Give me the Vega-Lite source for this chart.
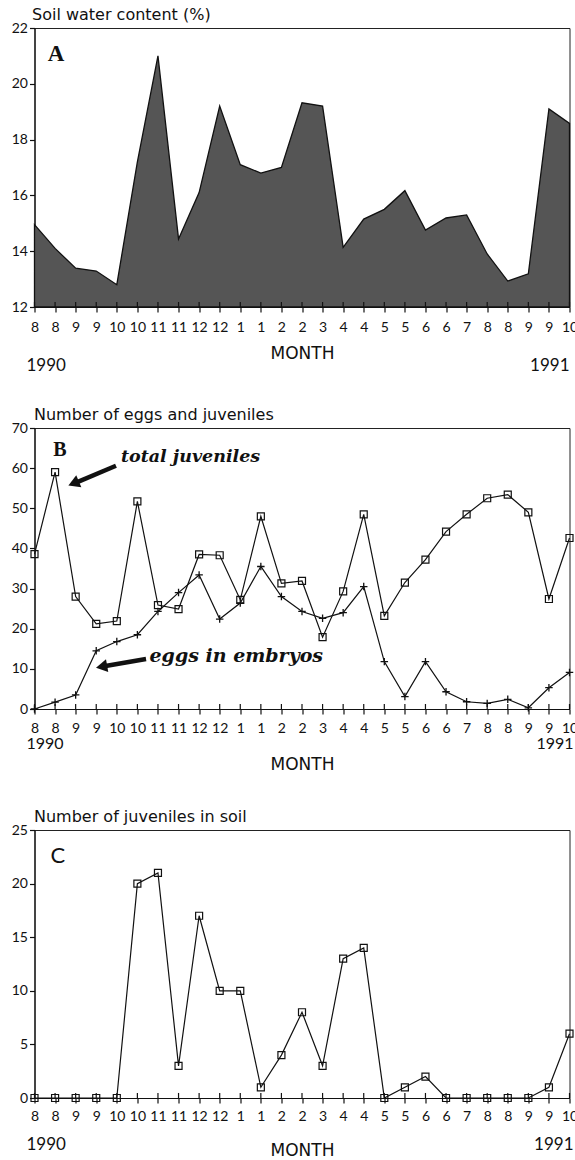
{
  "$schema": "https://vega.github.io/schema/vega-lite/v6.json",
  "background": "white",
  "padding": {"left": 10.5, "top": 5, "right": 2, "bottom": 5},
  "bounds": "flush",
  "spacing": 121,
  "config": {
    "view": {"stroke": "#222", "strokeWidth": 1},
    "font": "Lato",
    "axis": {"domainColor": "#111", "tickColor": "#111", "labelColor": "#111", "titleColor": "#111", "labelFont": "Lato", "titleFont": "DejaVu Sans", "grid": false, "labelFontSize": 14, "titleFontWeight": "normal", "domainWidth": 1.2, "tickWidth": 1.2, "labelOverlap": false, "labelBound": false}
  },
  "datasets": {
    "soil": [
      {"i": 0, "water": 14.95}, {"i": 1, "water": 14.1}, {"i": 2, "water": 13.39}, {"i": 3, "water": 13.29},
      {"i": 4, "water": 12.8}, {"i": 5, "water": 17.2}, {"i": 6, "water": 21.0}, {"i": 7, "water": 14.44},
      {"i": 8, "water": 16.1}, {"i": 9, "water": 19.2}, {"i": 10, "water": 17.1}, {"i": 11, "water": 16.8},
      {"i": 12, "water": 17.0}, {"i": 13, "water": 19.32}, {"i": 14, "water": 19.2}, {"i": 15, "water": 14.14},
      {"i": 16, "water": 15.15}, {"i": 17, "water": 15.5}, {"i": 18, "water": 16.17}, {"i": 19, "water": 14.76},
      {"i": 20, "water": 15.19}, {"i": 21, "water": 15.3}, {"i": 22, "water": 13.9}, {"i": 23, "water": 12.93},
      {"i": 24, "water": 13.19}, {"i": 25, "water": 19.1}, {"i": 26, "water": 18.58}
    ],
    "juv": [
      {"i": 0, "total": 38.6, "eggs": 0}, {"i": 1, "total": 59, "eggs": 1.7}, {"i": 2, "total": 28, "eggs": 3.5},
      {"i": 3, "total": 21.2, "eggs": 14.5}, {"i": 4, "total": 21.9, "eggs": 16.8}, {"i": 5, "total": 51.7, "eggs": 18.5},
      {"i": 6, "total": 25.9, "eggs": 24.3}, {"i": 7, "total": 24.9, "eggs": 29}, {"i": 8, "total": 38.5, "eggs": 33.4},
      {"i": 9, "total": 38.3, "eggs": 22.4}, {"i": 10, "total": 27.2, "eggs": 26.4}, {"i": 11, "total": 48, "eggs": 35.5},
      {"i": 12, "total": 31.3, "eggs": 28}, {"i": 13, "total": 31.9, "eggs": 24.3}, {"i": 14, "total": 17.9, "eggs": 22.6},
      {"i": 15, "total": 29.3, "eggs": 24}, {"i": 16, "total": 48.5, "eggs": 30.5}, {"i": 17, "total": 23.2, "eggs": 11.8},
      {"i": 18, "total": 31.5, "eggs": 3.1}, {"i": 19, "total": 37.2, "eggs": 11.8}, {"i": 20, "total": 44.2, "eggs": 4.3},
      {"i": 21, "total": 48.5, "eggs": 1.8}, {"i": 22, "total": 52.5, "eggs": 1.4}, {"i": 23, "total": 53.4, "eggs": 2.4},
      {"i": 24, "total": 49, "eggs": 0.3}, {"i": 25, "total": 27.4, "eggs": 5.3}, {"i": 26, "total": 42.6, "eggs": 9.1}
    ],
    "soiljuv": [
      {"i": 0, "n": 0}, {"i": 1, "n": 0}, {"i": 2, "n": 0}, {"i": 3, "n": 0}, {"i": 4, "n": 0},
      {"i": 5, "n": 20}, {"i": 6, "n": 21}, {"i": 7, "n": 3}, {"i": 8, "n": 17}, {"i": 9, "n": 10},
      {"i": 10, "n": 10}, {"i": 11, "n": 1}, {"i": 12, "n": 4}, {"i": 13, "n": 8}, {"i": 14, "n": 3},
      {"i": 15, "n": 13}, {"i": 16, "n": 14}, {"i": 17, "n": 0}, {"i": 18, "n": 1}, {"i": 19, "n": 2},
      {"i": 20, "n": 0}, {"i": 21, "n": 0}, {"i": 22, "n": 0}, {"i": 23, "n": 0}, {"i": 24, "n": 0},
      {"i": 25, "n": 1}, {"i": 26, "n": 6}
    ],
    "y1990": [{"year": "1990", "i": 0}],
    "y1991": [{"year": "1991", "i": 26}]
  },
  "vconcat": [
    {
      "width": 535,
      "height": 279,
      "layer": [
        {
          "data": {"name": "soil"},
          "mark": {"type": "area", "fill": "#555555", "stroke": "#111", "strokeWidth": 1.3},
          "encoding": {
            "x": {"field": "i", "type": "quantitative", "scale": {"domain": [0, 26], "nice": false, "zero": false},
              "axis": {"values": [0,1,2,3,4,5,6,7,8,9,10,11,12,13,14,15,16,17,18,19,20,21,22,23,24,25,26], "tickCount": 27, "labelOverlap": false,
                "labelExpr": "['8','8','9','9','10','10','11','11','12','12','1','1','2','2','3','4','4','5','5','6','6','7','8','8','9','9','10'][datum.value]",
                "ticks": true, "tickSize": 5, "labelPadding": 8, "title": "MONTH", "titleFontSize": 17, "titlePadding": 11, "labelFlush": false}},
            "y": {"field": "water", "type": "quantitative", "scale": {"domain": [12, 22], "nice": false, "zero": false},
              "axis": {"values": [12, 14, 16, 18, 20, 22], "tickSize": 5, "labelPadding": 2, "title": "Soil water content (%)",
                "titleAngle": 0, "titleAlign": "left", "titleBaseline": "middle", "titleX": -3, "titleY": -14, "titleFontSize": 16}},
            "y2": {"datum": 12}
          }
        },
        {
          "data": {"name": "soil"},
          "mark": {"type": "rule", "color": "#111", "strokeWidth": 1.2},
          "encoding": {"x": {"field": "i", "type": "quantitative"}, "y": {"datum": 12}, "y2": {"datum": 12.18}}
        },
        {
          "data": {"values": [{"t": "A"}]},
          "mark": {"type": "text", "font": "Liberation Serif", "fontWeight": "bold", "fontSize": 23, "color": "#111"},
          "encoding": {"x": {"datum": 1.05}, "y": {"datum": 21.07}, "text": {"field": "t"}}
        },
        {
          "data": {"name": "y1990"},
          "mark": {"type": "text", "align": "left", "baseline": "middle", "dx": -8, "dy": 59, "fontSize": 17, "font": "Lato", "color": "#111"},
          "encoding": {"x": {"field": "i", "type": "quantitative"}, "y": {"datum": 12}, "text": {"field": "year"}}
        },
        {
          "data": {"name": "y1991"},
          "mark": {"type": "text", "align": "right", "baseline": "middle", "dx": 0, "dy": 59, "fontSize": 17, "font": "Lato", "color": "#111"},
          "encoding": {"x": {"field": "i", "type": "quantitative"}, "y": {"datum": 12}, "text": {"field": "year"}}
        }
      ]
    },
    {
      "width": 535,
      "height": 281,
      "layer": [
        {
          "data": {"name": "juv"},
          "mark": {"type": "line", "color": "#111", "strokeWidth": 1.2},
          "encoding": {
            "x": {"field": "i", "type": "quantitative", "scale": {"domain": [0, 26], "nice": false, "zero": false},
              "axis": {"values": [0,1,2,3,4,5,6,7,8,9,10,11,12,13,14,15,16,17,18,19,20,21,22,23,24,25,26], "tickCount": 27, "labelOverlap": false,
                "labelExpr": "['8','8','9','9','10','10','11','11','12','12','1','1','2','2','3','4','4','5','5','6','6','7','8','8','9','9','10'][datum.value]",
                "ticks": true, "tickSize": 5, "labelPadding": 7, "title": "MONTH", "titleFontSize": 17, "titlePadding": 21, "labelFlush": false}},
            "y": {"field": "total", "type": "quantitative", "scale": {"domain": [0, 70], "nice": false},
              "axis": {"values": [0, 10, 20, 30, 40, 50, 60, 70], "tickSize": 5, "labelPadding": 2, "title": "Number of eggs and juveniles",
                "titleAngle": 0, "titleAlign": "left", "titleBaseline": "middle", "titleX": -1, "titleY": -14, "titleFontSize": 16}}
          }
        },
        {
          "data": {"name": "juv"},
          "mark": {"type": "point", "shape": "square", "size": 49, "filled": false, "stroke": "#111", "strokeWidth": 1.2, "opacity": 1},
          "encoding": {"x": {"field": "i", "type": "quantitative"}, "y": {"field": "total", "type": "quantitative"}}
        },
        {
          "data": {"name": "juv"},
          "mark": {"type": "line", "color": "#111", "strokeWidth": 1.2},
          "encoding": {"x": {"field": "i", "type": "quantitative"}, "y": {"field": "eggs", "type": "quantitative"}}
        },
        {
          "data": {"name": "juv"},
          "mark": {"type": "point", "shape": "M-1,0H1M0,-1V1", "size": 56, "filled": false, "stroke": "#111", "strokeWidth": 1.3, "opacity": 1},
          "encoding": {"x": {"field": "i", "type": "quantitative"}, "y": {"field": "eggs", "type": "quantitative"}}
        },
        {
          "data": {"name": "juv"},
          "mark": {"type": "rule", "color": "#111", "strokeWidth": 1.2},
          "encoding": {"x": {"field": "i", "type": "quantitative"}, "y": {"datum": 0}, "y2": {"datum": 1.25}}
        },
        {
          "data": {"values": [{"t": "B"}]},
          "mark": {"type": "text", "font": "Liberation Serif", "fontWeight": "bold", "fontSize": 20, "color": "#111"},
          "encoding": {"x": {"datum": 1.24}, "y": {"datum": 64.5}, "text": {"field": "t"}}
        },
        {
          "data": {"values": [{"t": "total juveniles", "i": 4.2, "v": 62.8}]},
          "mark": {"type": "text", "align": "left", "baseline": "middle", "font": "DejaVu Serif", "fontWeight": "bold", "fontStyle": "italic", "fontSize": 17.5, "color": "#111"},
          "encoding": {"x": {"field": "i", "type": "quantitative"}, "y": {"field": "v", "type": "quantitative"}, "text": {"field": "t"}}
        },
        {
          "data": {"values": [{"t": "eggs in embryos", "i": 5.59, "v": 13.2}]},
          "mark": {"type": "text", "align": "left", "baseline": "middle", "font": "DejaVu Serif", "fontWeight": "bold", "fontStyle": "italic", "fontSize": 19, "color": "#111"},
          "encoding": {"x": {"field": "i", "type": "quantitative"}, "y": {"field": "v", "type": "quantitative"}, "text": {"field": "t"}}
        },
        {
          "data": {"values": [{"i1": 3.96, "v1": 60.6, "i2": 2.02, "v2": 56.4}, {"i1": 5.42, "v1": 12.47, "i2": 3.38, "v2": 10.67}]},
          "mark": {"type": "rule", "color": "#111", "strokeWidth": 4.5},
          "encoding": {"x": {"field": "i1", "type": "quantitative"}, "y": {"field": "v1", "type": "quantitative"}, "x2": {"field": "i2"}, "y2": {"field": "v2"}}
        },
        {
          "data": {"values": [{"i": 1.9, "v": 56.2}]},
          "mark": {"type": "point", "shape": "triangle-up", "size": 170, "filled": true, "color": "#111", "opacity": 1, "angle": 247},
          "encoding": {"x": {"field": "i", "type": "quantitative"}, "y": {"field": "v", "type": "quantitative"}}
        },
        {
          "data": {"values": [{"i": 3.26, "v": 10.55}]},
          "mark": {"type": "point", "shape": "triangle-up", "size": 170, "filled": true, "color": "#111", "opacity": 1, "angle": 260},
          "encoding": {"x": {"field": "i", "type": "quantitative"}, "y": {"field": "v", "type": "quantitative"}}
        },
        {
          "data": {"name": "y1990"},
          "mark": {"type": "text", "align": "left", "baseline": "middle", "dx": -8, "dy": 35, "fontSize": 16, "font": "Lato", "color": "#111"},
          "encoding": {"x": {"field": "i", "type": "quantitative"}, "y": {"datum": 0}, "text": {"field": "year"}}
        },
        {
          "data": {"name": "y1991"},
          "mark": {"type": "text", "align": "right", "baseline": "middle", "dx": 4, "dy": 35, "fontSize": 16, "font": "Lato", "color": "#111"},
          "encoding": {"x": {"field": "i", "type": "quantitative"}, "y": {"datum": 0}, "text": {"field": "year"}}
        }
      ]
    },
    {
      "width": 535,
      "height": 268,
      "layer": [
        {
          "data": {"name": "soiljuv"},
          "mark": {"type": "line", "color": "#111", "strokeWidth": 1.2},
          "encoding": {
            "x": {"field": "i", "type": "quantitative", "scale": {"domain": [0, 26], "nice": false, "zero": false},
              "axis": {"values": [0,1,2,3,4,5,6,7,8,9,10,11,12,13,14,15,16,17,18,19,20,21,22,23,24,25,26], "tickCount": 27, "labelOverlap": false,
                "labelExpr": "['8','8','9','9','10','10','11','11','12','12','1','1','2','2','3','4','4','5','5','6','6','7','8','8','9','9','10'][datum.value]",
                "ticks": true, "tickSize": 5, "labelPadding": 6, "title": "MONTH", "titleFontSize": 17, "titlePadding": 19, "labelFlush": false}},
            "y": {"field": "n", "type": "quantitative", "scale": {"domain": [0, 25], "nice": false},
              "axis": {"values": [0, 5, 10, 15, 20, 25], "tickSize": 5, "labelPadding": 2, "title": "Number of juveniles in soil",
                "titleAngle": 0, "titleAlign": "left", "titleBaseline": "middle", "titleX": -1, "titleY": -14, "titleFontSize": 16}}
          }
        },
        {
          "data": {"name": "soiljuv"},
          "mark": {"type": "point", "shape": "square", "size": 49, "filled": false, "stroke": "#111", "strokeWidth": 1.2, "opacity": 1},
          "encoding": {"x": {"field": "i", "type": "quantitative"}, "y": {"field": "n", "type": "quantitative"}}
        },
        {
          "data": {"name": "soiljuv"},
          "mark": {"type": "rule", "color": "#111", "strokeWidth": 1.2},
          "encoding": {"x": {"field": "i", "type": "quantitative"}, "y": {"datum": 0}, "y2": {"datum": 0.47}}
        },
        {
          "data": {"values": [{"t": "C"}]},
          "mark": {"type": "text", "font": "Lato", "fontSize": 22, "color": "#111"},
          "encoding": {"x": {"datum": 1.14}, "y": {"datum": 22.6}, "text": {"field": "t"}}
        },
        {
          "data": {"name": "y1990"},
          "mark": {"type": "text", "align": "left", "baseline": "middle", "dx": -8, "dy": 47, "fontSize": 17, "font": "Lato", "color": "#111"},
          "encoding": {"x": {"field": "i", "type": "quantitative"}, "y": {"datum": 0}, "text": {"field": "year"}}
        },
        {
          "data": {"name": "y1991"},
          "mark": {"type": "text", "align": "right", "baseline": "middle", "dx": 4, "dy": 47, "fontSize": 17, "font": "Lato", "color": "#111"},
          "encoding": {"x": {"field": "i", "type": "quantitative"}, "y": {"datum": 0}, "text": {"field": "year"}}
        }
      ]
    }
  ]
}
